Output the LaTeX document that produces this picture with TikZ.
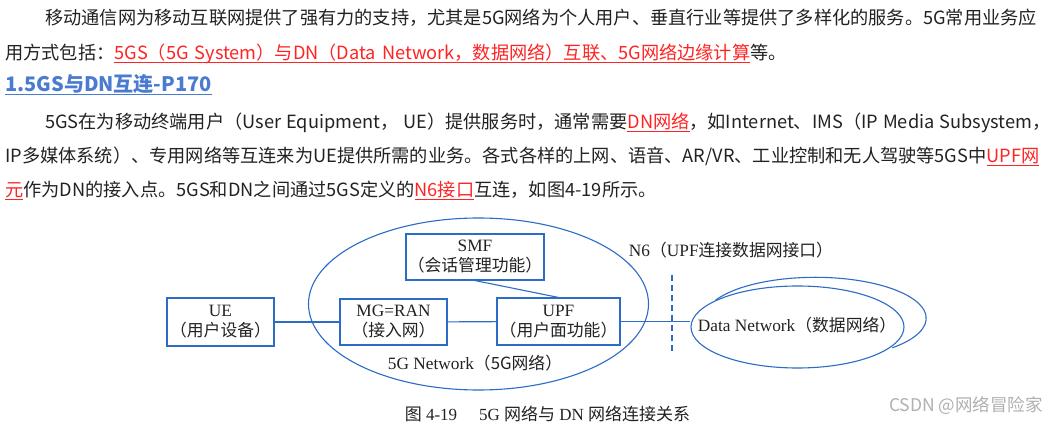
\documentclass[tikz,border=0pt]{standalone}
\usepackage{fontspec}
\setmainfont{Noto Sans CJK SC}
\newfontfamily\tms{Liberation Serif}
\newfontfamily\cjk{Noto Sans CJK SC}
\usepackage{xcolor}
\definecolor{ink}{HTML}{222222}
\definecolor{linkred}{HTML}{FF2424}
\definecolor{headblue}{HTML}{4A7BD0}
\definecolor{netblue}{HTML}{2C6CC6}
\definecolor{wmgray}{HTML}{B0B0B0}
\usepackage{tikz}
\usetikzlibrary{positioning,shapes.geometric}
\XeTeXlinebreaklocale "zh"
\XeTeXlinebreakskip=0pt plus 2pt minus 1pt
\newsavebox{\ulbox}
\newcommand{\uln}[1]{\sbox{\ulbox}{#1}\rlap{\rule[-3.5pt]{\wd\ulbox}{1.3pt}}\usebox{\ulbox}}
\newcommand{\rl}[1]{\textcolor{linkred}{\uln{#1}}}
\newcommand{\bodyfont}{\fontsize{18.2}{22}\selectfont\spaceskip=6pt plus 3pt minus 1pt\relax}
\newcommand{\headfont}{\bfseries\fontsize{20}{24}\selectfont}
\newcommand{\figfont}{\tms\fontsize{17.3}{20}\selectfont}
\newcommand{\zh}{\cjk\fontsize{16.8}{20}\selectfont}
\tikzset{
  txtline/.style={anchor=base west,inner sep=0pt,text=ink,font=\bodyfont},
  box/.style={draw=netblue,line width=1.1pt,fill=white,align=center,inner sep=0pt,
              font=\figfont,text=ink},
  netell/.style={ellipse,draw=netblue,line width=1.1pt,inner sep=0pt},
  netline/.style={draw=netblue,line width=1.1pt},
  lbl/.style={font=\figfont,text=ink,inner sep=0pt},
  n6dash/.style={netline,dash pattern=on 6pt off 4pt},
}

\begin{document}
\begin{tikzpicture}[x=1pt,y=-1pt]
  \useasboundingbox[fill=white] (0,0) rectangle (1063,427);

  % text above the figure
  \node[txtline] (p1a) at (45,25) {\makebox[995pt][s]{移动通信网为移动互联网提供了强有力的支持，尤其是5G网络为个人用户、垂直行业等提供了多样化的服务。5G常用业务应}};
  \node[txtline] (p1b) at (5,60) {用方式包括：\rl{5GS（5G System）与DN（Data Network，数据网络）互联、5G网络边缘计算}等。};
  \node[txtline,font=\headfont,text=headblue] (head) at (5,92) {\uln{1.5GS与DN互连-P170}};
  \node[txtline] (p2a) at (45,129) {\makebox[995pt][s]{5GS在为移动终端用户（User Equipment， UE）提供服务时，通常需要\rl{DN网络}，如Internet、IMS（IP Media Subsystem，}};
  \node[txtline] (p2b) at (5,163) {\makebox[1035pt][s]{IP多媒体系统）、专用网络等互连来为UE提供所需的业务。各式各样的上网、语音、AR/VR、工业控制和无人驾驶等5GS中\rl{UPF网}}};
  \node[txtline] (p2c) at (5,197) {\rl{元}作为DN的接入点。5GS和DN之间通过5GS定义的\rl{N6接口}互连，如图4-19所示。};

  % figure 4-19
  \node[netell,minimum width=340,minimum height=172] (g5) at (478.5,304) {};
  \node[box,minimum width=107,minimum height=48] (ue) at (220.5,322) {UE\\\zh（用户设备）};
  \node[box,minimum width=107,minimum height=46] (mg) at (393.5,322) {MG=RAN\\\zh（接入网）};
  \node[box,minimum width=123,minimum height=47] (upf) at (558.5,321.5) {UPF\\\zh（用户面功能）};
  \node[box,minimum width=138,minimum height=46] (smf) at (475,257) {SMF\\\zh（会话管理功能）};
  \node[lbl] (g5lbl) at (475,363) {5G Network{\zh（5G网络）}};

  \node[netell,minimum width=213,minimum height=82] (dn) at (797.5,327) {};
  \node[lbl] (dnlbl) at (797,325) {Data Network{\zh（数据网络）}};
  \draw[netline] (dn.162) arc[start angle=154,end angle=-46,x radius=111pt,y radius=41pt];

  \node[lbl] (n6lbl) at (731,250) {N6{\zh（}UPF{\zh 连接数据网接口）}};
  \coordinate (n6top) at (672,275);
  \coordinate (n6bot) at (672,353);
  \draw[n6dash] (n6top) -- (n6bot);

  \draw[netline] (ue) -- (mg);
  \draw[netline] (mg) -- (upf);
  \draw[netline] (upf) -- (upf -| dn.west);
  \draw[netline] (smf.south) -- (upf.north);

  \node[lbl,font=\tms\fontsize{17}{20}\selectfont] (capt) at (547.5,414) {{\cjk\fontsize{17}{20}\selectfont 图} 4-19\hspace{22pt}5G {\cjk\fontsize{17}{20}\selectfont 网络与} DN {\cjk\fontsize{17}{20}\selectfont 网络连接关系}};
  \node[inner sep=0pt,text=wmgray,font=\cjk\fontsize{17.5}{20}\selectfont] (wm) at (966,406) {CSDN @网络冒险家};
\end{tikzpicture}
\end{document}
